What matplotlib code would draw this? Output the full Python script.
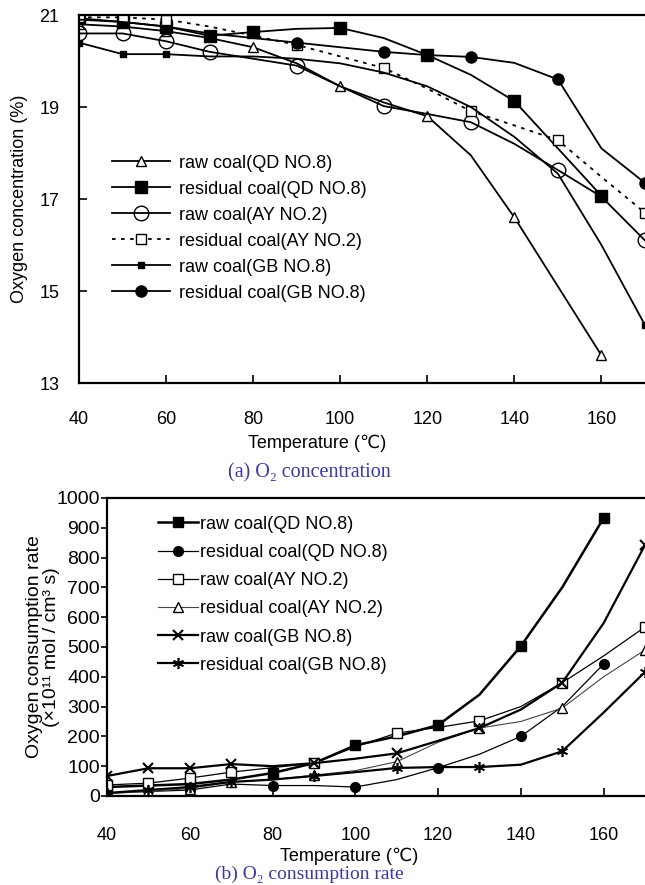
import matplotlib
matplotlib.use("Agg")
import matplotlib.pyplot as plt

plt.rcParams['font.family'] = ['Liberation Sans', 'DejaVu Sans']

# temperatures (deg C)
temps = [40, 50, 60, 70, 80, 90, 100, 110, 120, 130, 140, 150, 160, 170]

# (a) oxygen concentration, %
conc_raw_qd = [20.8, 20.75, 20.65, 20.5, 20.3, 19.95, 19.45, 19.1, 18.8, 17.95, 16.6, 15.1, 13.6]
conc_res_qd = [20.93, 20.85, 20.75, 20.55, 20.63, 20.7, 20.72, 20.5, 20.13, 19.7, 19.13, 18.1, 17.07]
conc_raw_ay = [20.6, 20.6, 20.43, 20.2, 20.05, 19.9, 19.45, 19.02, 18.85, 18.67, 18.2, 17.63, 17.05, 16.1]
conc_res_ay = [20.95, 20.95, 20.9, 20.75, 20.55, 20.35, 20.1, 19.85, 19.4, 18.91, 18.6, 18.28, 17.48, 16.7]
conc_raw_gb = [20.4, 20.15, 20.15, 20.1, 20.1, 20.05, 19.95, 19.75, 19.45, 19.0, 18.35, 17.55, 16.0, 14.26]
conc_res_gb = [20.9, 20.85, 20.75, 20.6, 20.5, 20.4, 20.3, 20.2, 20.13, 20.09, 19.96, 19.6, 18.1, 17.35]

# (b) oxygen consumption rate, 1e-11 mol/(cm3 s)
rate_raw_qd = [30, 35, 40, 55, 77, 110, 170, 200, 238, 340, 503, 700, 933]
rate_res_qd = [10, 15, 20, 40, 35, 35, 30, 55, 95, 140, 200, 300, 443]
rate_raw_ay = [37, 43, 60, 80, 95, 110, 165, 211, 230, 252, 300, 380, 470, 567]
rate_res_ay = [8, 15, 25, 47, 55, 70, 85, 115, 180, 228, 250, 295, 400, 490]
rate_raw_gb = [67, 93, 93, 107, 100, 110, 125, 143, 185, 228, 290, 380, 580, 842]
rate_res_gb = [10, 20, 30, 47, 55, 67, 80, 94, 97, 97, 105, 150, 280, 416]

labels = ['raw coal(QD NO.8)', 'residual coal(QD NO.8)', 'raw coal(AY NO.2)',
          'residual coal(AY NO.2)', 'raw coal(GB NO.8)', 'residual coal(GB NO.8)']

fig = plt.figure(figsize=(6.45, 8.85), dpi=100)

# ---------- (a) ----------
ax1 = fig.add_axes([0.1225, 0.5672, 0.8775, 0.4158])
n13 = len(conc_raw_qd)
ax1.plot(temps[:n13], conc_raw_qd, color='k', lw=1.3, marker='^', ms=7.5, mfc='white',
         mec='k', markevery=[0, 2, 4, 6, 8, 10, 12], label=labels[0])
ax1.plot(temps[:n13], conc_res_qd, color='k', lw=1.3, marker='s', ms=8, mfc='k',
         mec='k', markevery=[0, 1, 2, 3, 4, 6, 8, 10, 12], label=labels[1])
ax1.plot(temps, conc_raw_ay, color='k', lw=1.3, marker='o', ms=10.5, mfc='none',
         mec='k', markevery=[0, 1, 2, 3, 5, 7, 9, 11, 13], label=labels[2])
ax1.plot(temps, conc_res_ay, color='k', lw=1.3, ls=(0, (2, 3)), marker='s', ms=7.5,
         mfc='white', mec='k', markevery=[0, 1, 2, 5, 7, 9, 11, 13], label=labels[3])
ax1.plot(temps, conc_raw_gb, color='k', lw=1.3, marker='s', ms=5, mfc='k', mec='k',
         markevery=[0, 1, 2, 13], label=labels[4])
ax1.plot(temps, conc_res_gb, color='k', lw=1.3, marker='o', ms=8, mfc='k', mec='k',
         markevery=[5, 7, 9, 11, 13], label=labels[5])

ax1.set_xlim(40, 170)
ax1.set_ylim(13, 21)
ax1.set_xticks([40, 60, 80, 100, 120, 140, 160])
ax1.set_yticks([13, 15, 17, 19, 21])
ax1.tick_params(axis='x', direction='in', length=6, width=1.2, pad=20, labelsize=13)
ax1.tick_params(axis='y', direction='in', length=6, width=1.2, pad=14, labelsize=13)
ax1.spines['right'].set_visible(False)
for s in ['left', 'bottom', 'top']:
    ax1.spines[s].set_linewidth(1.6)
ax1.set_xlabel('Temperature (℃)', fontsize=13)
ax1.xaxis.set_label_coords(0.42, -0.14)
ax1.set_ylabel('Oxygen concentration (%)', fontsize=13)
ax1.yaxis.set_label_coords(-0.09, 0.5)
leg1 = ax1.legend(loc='upper left', bbox_to_anchor=(0.03, 0.665), frameon=False,
                  fontsize=13, handlelength=3.2, labelspacing=0.5, handletextpad=0.5)

fig.text(0.48, 0.4655, '(a) O₂ concentration', color='#3a3aa0', fontsize=14.5,
         family=['Liberation Serif', 'DejaVu Serif'], ha='center', va='center')

# ---------- (b) ----------
ax2 = fig.add_axes([0.1659, 0.1006, 0.8341, 0.3367])
ax2.plot(temps[:n13], rate_raw_qd, color='k', lw=1.8, marker='s', ms=7, mfc='k',
         markevery=[0, 2, 4, 6, 8, 10, 12], label=labels[0])
ax2.plot(temps[:n13], rate_res_qd, color='k', lw=0.9, marker='o', ms=7, mfc='k',
         markevery=[0, 2, 4, 6, 8, 10, 12], label=labels[1])
ax2.plot(temps, rate_raw_ay, color='k', lw=0.9, marker='s', ms=7, mfc='white',
         mec='k', markevery=[0, 1, 2, 3, 5, 7, 9, 11, 13], label=labels[2])
ax2.plot(temps, rate_res_ay, color='#444444', lw=0.8, marker='^', ms=7, mfc='white',
         mec='k', markevery=[0, 1, 2, 3, 5, 7, 9, 11, 13], label=labels[3])
ax2.plot(temps, rate_raw_gb, color='k', lw=1.6, marker='x', ms=7, mew=1.5,
         markevery=[0, 1, 2, 3, 5, 7, 9, 11, 13], label=labels[4])
ax2.plot(temps, rate_res_gb, color='k', lw=1.6, marker=(6, 2, 0), ms=8, mew=1.2,
         markevery=[0, 1, 2, 3, 5, 7, 9, 11, 13], label=labels[5])

ax2.set_xlim(40, 170)
ax2.set_ylim(0, 1000)
ax2.set_xticks([40, 60, 80, 100, 120, 140, 160])
ax2.set_yticks(range(0, 1001, 100))
ax2.tick_params(axis='x', direction='in', length=6, width=1.2, pad=22, labelsize=13)
ax2.tick_params(axis='y', direction='out', length=4, width=1.2, pad=1, labelsize=14)
ax2.spines['right'].set_visible(False)
for s in ['left', 'bottom', 'top']:
    ax2.spines[s].set_linewidth(1.6)
ax2.set_xlabel('Temperature (℃)', fontsize=13)
ax2.xaxis.set_label_coords(0.45, -0.175)
ax2.set_ylabel('Oxygen consumption rate\n(×10¹¹ mol / cm³ s)', fontsize=14,
               linespacing=1.0)
ax2.yaxis.set_label_coords(-0.087, 0.5)
leg2 = ax2.legend(loc='upper left', bbox_to_anchor=(0.065, 0.995), frameon=False,
                  fontsize=13, handlelength=2.2, labelspacing=0.62, handletextpad=0.1)

fig.text(0.48, 0.0125, '(b) O₂ consumption rate', color='#3a3aa0', fontsize=14,
         family=['Liberation Serif', 'DejaVu Serif'], ha='center', va='center')

fig.savefig('out.png', dpi=100)
